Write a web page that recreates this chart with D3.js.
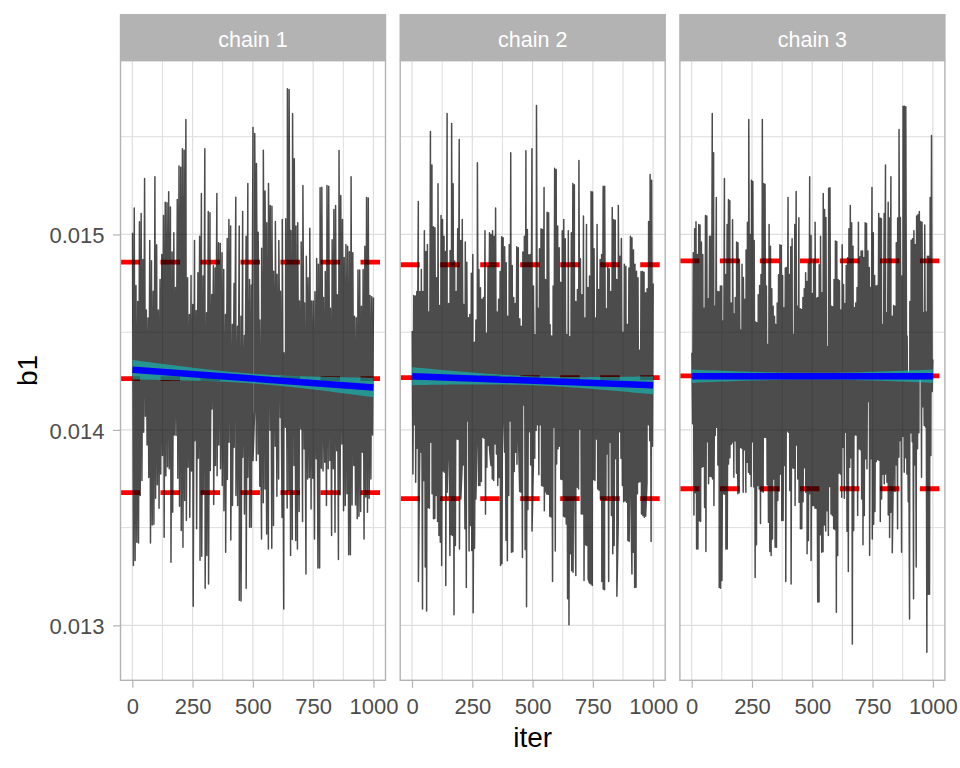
<!DOCTYPE html>
<html><head><meta charset="utf-8">
<script src="https://cdn.jsdelivr.net/npm/d3@7"></script>
<style>body{margin:0;background:#fff}</style>
</head><body>
<svg id="c" width="960" height="768"></svg>
<script>
// ---------------- data ----------------
const chains = ["chain 1", "chain 2", "chain 3"];
const xTicks = [0, 250, 500, 750, 1000];
const xMinor = [125, 375, 625, 875];
const yTicks = [0.013, 0.014, 0.015];
const yMinor = [0.0135, 0.0145, 0.0155];
const iterRange = [1, 1000];

// upper / lower excursions of each trace, left to right
const chain1High = [0.015009,0.015136,0.014739,0.014657,0.015065,0.015107,0.014872,0.015286,0.014613,0.014572,0.014969,0.014865,0.014710,0.015295,0.014947,0.014613,0.014770,0.014898,0.015097,0.015165,0.015162,0.015218,0.015140,0.014910,0.015009,0.014729,0.015179,0.015350,0.015344,0.015438,0.015431,0.015588,0.014778,0.014591,0.014790,0.014642,0.014969,0.014611,0.014804,0.014991,0.015210,0.014787,0.015438,0.014599,0.015118,0.015111,0.014693,0.014841,0.014829,0.015210,0.014957,0.014954,0.014906,0.014821,0.014591,0.014980,0.015077,0.015043,0.014540,0.014749,0.015191,0.014531,0.015043,0.014582,0.015118,0.014483,0.014991,0.015261,0.014770,0.014741,0.015547,0.015517,0.015363,0.015012,0.014562,0.014930,0.015431,0.015222,0.015060,0.015261,0.015148,0.015145,0.014812,0.015066,0.014797,0.014969,0.014710,0.015077,0.014395,0.015080,0.015745,0.015742,0.015020,0.015619,0.015387,0.015043,0.015060,0.014659,0.014961,0.015251,0.014650,0.014889,0.014778,0.015032,0.014659,0.014659,0.014707,0.014877,0.014847,0.015239,0.015242,0.014678,0.014811,0.015251,0.015247,0.014623,0.014973,0.015128,0.015148,0.014691,0.015430,0.015199,0.015077,0.014882,0.014949,0.014940,0.014911,0.015295,0.014906,0.014582,0.014574,0.014818,0.014818,0.014633,0.014821,0.014940,0.015189,0.015186,0.014688,0.014681,0.014678];
const chain1Low = [0.013306,0.013332,0.013425,0.013422,0.013664,0.013741,0.013988,0.014070,0.013923,0.013756,0.013422,0.013514,0.013517,0.013650,0.013719,0.013599,0.013775,0.013869,0.013451,0.013766,0.013811,0.013801,0.013323,0.013579,0.013974,0.013971,0.013753,0.013610,0.013485,0.013400,0.013639,0.013536,0.013809,0.013553,0.013790,0.013098,0.013945,0.013494,0.013855,0.013333,0.013354,0.013673,0.013190,0.013357,0.013211,0.013792,0.014107,0.013618,0.013818,0.013766,0.013923,0.013801,0.013715,0.013587,0.013374,0.013746,0.013937,0.013437,0.013613,0.013911,0.013664,0.013613,0.013129,0.013125,0.013860,0.013570,0.013190,0.013758,0.013502,0.013502,0.013843,0.014102,0.013843,0.013877,0.013712,0.013442,0.013627,0.013698,0.013468,0.013391,0.013998,0.013395,0.013511,0.013916,0.013661,0.013749,0.014063,0.013552,0.013084,0.014014,0.013601,0.013690,0.013357,0.013439,0.013818,0.013434,0.013391,0.013582,0.014005,0.013531,0.013903,0.013263,0.013749,0.013756,0.013596,0.013753,0.013442,0.013852,0.013294,0.013294,0.013804,0.013790,0.013835,0.013613,0.013801,0.013843,0.013460,0.013801,0.013477,0.013894,0.013337,0.013668,0.013928,0.013587,0.013613,0.013673,0.013361,0.013361,0.013616,0.013818,0.013616,0.013545,0.013558,0.013582,0.013886,0.013442,0.013657,0.013579,0.013650,0.013749,0.013974];
const chain2High = [0.014506,0.014688,0.014685,0.014708,0.015169,0.014708,0.014821,0.014708,0.015019,0.014913,0.014949,0.014603,0.015527,0.015356,0.015039,0.015034,0.014778,0.015259,0.014637,0.015097,0.015077,0.014991,0.014913,0.015619,0.014647,0.014918,0.015568,0.015259,0.014864,0.014708,0.015029,0.015486,0.014969,0.015077,0.014642,0.014961,0.014858,0.014574,0.014591,0.014801,0.014898,0.014449,0.014562,0.015367,0.014821,0.014727,0.014668,0.014678,0.015019,0.014494,0.014838,0.015009,0.015000,0.015019,0.014991,0.015136,0.014603,0.014668,0.014811,0.014988,0.014983,0.014937,0.014855,0.014582,0.014949,0.015418,0.014841,0.014678,0.014647,0.014937,0.014932,0.014569,0.014531,0.014910,0.014991,0.015428,0.015026,0.014896,0.014898,0.015438,0.014736,0.014487,0.015660,0.014623,0.014927,0.015029,0.015026,0.015240,0.014770,0.015114,0.015111,0.014538,0.014480,0.014736,0.015339,0.015332,0.015043,0.014932,0.014756,0.015019,0.015077,0.014978,0.014488,0.015019,0.014477,0.015009,0.015261,0.015254,0.014657,0.014719,0.015379,0.014876,0.014691,0.015094,0.014572,0.015051,0.014729,0.014787,0.015220,0.015217,0.014927,0.014572,0.015051,0.014719,0.014872,0.014898,0.015247,0.015247,0.014620,0.014848,0.014824,0.014708,0.015138,0.015077,0.015073,0.014770,0.015148,0.014889,0.014980,0.014500,0.014847,0.014838,0.014540,0.014829,0.014991,0.014983,0.014920,0.014848,0.014812,0.014778,0.014408,0.014811,0.014811,0.014807,0.014702,0.014722,0.015066,0.015307,0.015278,0.014749];
const chain2Low = [0.013775,0.014026,0.013732,0.013906,0.013224,0.013886,0.013886,0.013084,0.013741,0.013298,0.013074,0.013603,0.013599,0.013937,0.013673,0.013545,0.013548,0.013664,0.013531,0.013460,0.013425,0.013306,0.013790,0.013783,0.013204,0.013681,0.013995,0.013357,0.013463,0.013460,0.013054,0.013408,0.013954,0.013951,0.013391,0.013647,0.013824,0.013821,0.013494,0.013194,0.014046,0.013381,0.013511,0.013383,0.013064,0.013395,0.013647,0.014005,0.013715,0.013715,0.013736,0.013962,0.013957,0.013569,0.013809,0.013920,0.013899,0.013818,0.013749,0.013741,0.013928,0.013877,0.013715,0.013756,0.013306,0.013315,0.014179,0.013886,0.013436,0.013330,0.013664,0.014046,0.013374,0.013377,0.013787,0.013886,0.013824,0.013997,0.013685,0.013681,0.013347,0.014128,0.013388,0.013095,0.013593,0.013991,0.013821,0.013483,0.013821,0.013855,0.013997,0.014026,0.013770,0.014026,0.013715,0.013712,0.013587,0.013688,0.013671,0.013671,0.013558,0.013555,0.013224,0.014014,0.013381,0.013826,0.013903,0.013916,0.013749,0.013746,0.013558,0.013555,0.013519,0.013136,0.013003,0.013367,0.013280,0.013272,0.013826,0.013255,0.013707,0.013698,0.014005,0.013570,0.013570,0.013229,0.013412,0.013408,0.013238,0.013217,0.013212,0.013204,0.013746,0.013741,0.013954,0.013698,0.013691,0.013647,0.013224,0.013187,0.013183,0.013644,0.013877,0.013224,0.013937,0.013562,0.013367,0.013408,0.013852,0.013149,0.013524,0.013991,0.013855,0.013715,0.013633,0.013637,0.013630,0.013434,0.013429,0.013775,0.013263,0.013374,0.013194,0.013195,0.013674,0.013732,0.013736,0.013570,0.013562,0.013553,0.013558,0.013729,0.014026,0.013945,0.013429,0.013916];
const chain3High = [0.014395,0.014906,0.015029,0.015065,0.014898,0.015051,0.015049,0.014961,0.014898,0.014623,0.015097,0.015094,0.014671,0.014991,0.014991,0.015619,0.015418,0.014633,0.015189,0.014708,0.014707,0.014736,0.014736,0.014557,0.015286,0.014795,0.015051,0.015179,0.015172,0.014650,0.015075,0.014593,0.014678,0.014961,0.014957,0.014872,0.014511,0.014847,0.014780,0.014668,0.014920,0.015063,0.015588,0.015000,0.015278,0.015271,0.014969,0.014552,0.014548,0.014691,0.014739,0.014795,0.015588,0.015261,0.015257,0.014736,0.014437,0.015051,0.014940,0.014722,0.014633,0.014582,0.014540,0.014650,0.014794,0.014947,0.014944,0.014790,0.014625,0.014829,0.014831,0.015189,0.014795,0.014937,0.014978,0.014488,0.015051,0.015220,0.014633,0.015085,0.014620,0.014616,0.014678,0.014722,0.014804,0.014760,0.014852,0.015295,0.014995,0.014698,0.014872,0.015063,0.014674,0.014678,0.014845,0.014991,0.014702,0.015210,0.015128,0.015087,0.014425,0.015237,0.015239,0.014633,0.014630,0.014770,0.014966,0.014964,0.014770,0.014763,0.014613,0.014947,0.014744,0.014647,0.014841,0.014881,0.015029,0.015148,0.015060,0.014940,0.014625,0.014650,0.014729,0.015063,0.014886,0.014915,0.014916,0.014882,0.015060,0.015056,0.014916,0.014831,0.014729,0.015240,0.015009,0.014790,0.014736,0.014739,0.015107,0.015084,0.015080,0.014540,0.015107,0.015356,0.014599,0.015165,0.015084,0.015295,0.014582,0.014637,0.014633,0.014957,0.015084,0.015537,0.015087,0.014787,0.015656,0.015656,0.015653,0.014480,0.014292,0.014657,0.014971,0.014978,0.015019,0.014949,0.015094,0.015101,0.015118,0.015066,0.015063,0.014599,0.015049,0.014603,0.014889,0.014889,0.015189,0.015506,0.014361];
const chain3Low = [0.014031,0.013565,0.013678,0.013391,0.013391,0.013535,0.013531,0.013809,0.013814,0.013603,0.013378,0.013940,0.013724,0.013763,0.013760,0.013749,0.013613,0.013971,0.014014,0.013821,0.013194,0.013190,0.013229,0.013673,0.013671,0.013391,0.013391,0.013826,0.013858,0.013927,0.013944,0.013758,0.013944,0.013778,0.013673,0.013678,0.013910,0.013906,0.013681,0.013899,0.013681,0.013835,0.013783,0.013773,0.013710,0.013940,0.013708,0.013245,0.013412,0.013715,0.013698,0.013521,0.013688,0.013681,0.013962,0.013961,0.013719,0.013528,0.013378,0.013357,0.013442,0.013749,0.013400,0.013400,0.013639,0.013688,0.013775,0.013536,0.013536,0.013818,0.013224,0.013995,0.013988,0.013690,0.013211,0.013807,0.013804,0.013613,0.013923,0.013749,0.013630,0.013494,0.013494,0.013633,0.013807,0.013681,0.013367,0.013434,0.013673,0.013332,0.013613,0.013613,0.013599,0.013599,0.013119,0.013119,0.013463,0.013374,0.013377,0.013514,0.013483,0.013587,0.013460,0.013710,0.013570,0.013562,0.013494,0.013490,0.013067,0.013357,0.013780,0.013775,0.013656,0.013911,0.013650,0.013988,0.013482,0.013275,0.013809,0.013858,0.012905,0.013485,0.013974,0.013974,0.013562,0.013903,0.013899,0.013647,0.013412,0.013562,0.013852,0.013801,0.014145,0.013357,0.013852,0.013442,0.013517,0.013582,0.013838,0.013848,0.013845,0.013531,0.013647,0.013773,0.013724,0.013775,0.013732,0.013565,0.013449,0.013579,0.013371,0.013886,0.013685,0.013821,0.013494,0.013860,0.013945,0.013374,0.013968,0.013783,0.013858,0.013775,0.013633,0.013033,0.013985,0.013940,0.013136,0.013821,0.013298,0.013903,0.013985,0.014261,0.013758,0.014118,0.014022,0.014015,0.012863,0.013159,0.013159,0.013869,0.014196];

// reference lines per chain (red dashed)
const qLow  = [0.013679, 0.013648, 0.013699];
const qMean = [0.014262, 0.014268, 0.014277];
const qHigh = [0.014859, 0.014845, 0.014865];

// linear smooth per chain: fitted value at first and last iteration, SE half-width at centre
const fitStart = [0.014308, 0.014275, 0.014275];
const fitEnd   = [0.014217, 0.014228, 0.014275];
const ciMid    = [0.000025, 0.000023, 0.000017];

// ---------------- drawing ----------------
const FONT = "'Liberation Sans', Arial, Helvetica, sans-serif";
const L = {left: 120.5, top: 60.7, bottom: 680.3, stripTop: 14, pw: 265, gap: 14.7};

function buildTrace(hi, lo) {
  const pts = [];
  hi.forEach((v, i) => pts.push({pos: i / (hi.length - 1), v}));
  lo.forEach((v, j) => pts.push({pos: (j + 0.5) / lo.length, v}));
  pts.sort((a, b) => a.pos - b.pos);
  return pts.map(p => ({iter: iterRange[0] + p.pos * (iterRange[1] - iterRange[0]), v: p.v}));
}
const traces = [buildTrace(chain1High, chain1Low), buildTrace(chain2High, chain2Low), buildTrace(chain3High, chain3Low)];

const allV = traces.flat().map(d => d.v);
const [vmin, vmax] = d3.extent(allV);
const vpad = (vmax - vmin) * 0.05;
const y = d3.scaleLinear().domain([vmin - vpad, vmax + vpad]).range([L.bottom, L.top]);
const ipad = (iterRange[1] - iterRange[0]) * 0.05;

const svg = d3.select("#c");
svg.append("rect").attr("width", 960).attr("height", 768).attr("fill", "#fff");

chains.forEach((name, k) => {
  const x0 = L.left + k * (L.pw + L.gap);
  const x = d3.scaleLinear().domain([iterRange[0] - ipad, iterRange[1] + ipad]).range([x0, x0 + L.pw]);
  const g = svg.append("g");
  const clipId = "clip" + k;
  svg.append("clipPath").attr("id", clipId).append("rect")
    .attr("x", x0).attr("y", L.top).attr("width", L.pw).attr("height", L.bottom - L.top);
  const pg = g.append("g").attr("clip-path", `url(#${clipId})`);

  // grid
  pg.selectAll(".gmy").data(yMinor).join("line")
    .attr("x1", x0).attr("x2", x0 + L.pw).attr("y1", d => y(d)).attr("y2", d => y(d))
    .attr("stroke", "#dedede").attr("stroke-width", 1);
  pg.selectAll(".gmx").data(xMinor).join("line")
    .attr("y1", L.top).attr("y2", L.bottom).attr("x1", d => x(d)).attr("x2", d => x(d))
    .attr("stroke", "#dedede").attr("stroke-width", 1);
  pg.selectAll(".gy").data(yTicks).join("line")
    .attr("x1", x0).attr("x2", x0 + L.pw).attr("y1", d => y(d)).attr("y2", d => y(d))
    .attr("stroke", "#dedede").attr("stroke-width", 1.2);
  pg.selectAll(".gx").data(xTicks).join("line")
    .attr("y1", L.top).attr("y2", L.bottom).attr("x1", d => x(d)).attr("x2", d => x(d))
    .attr("stroke", "#dedede").attr("stroke-width", 1.2);

  // red dashed reference lines
  [qHigh[k], qMean[k], qLow[k]].forEach(v => {
    pg.append("line").attr("x1", x0).attr("x2", x0 + L.pw)
      .attr("y1", y(v)).attr("y2", y(v))
      .attr("stroke", "#ff0000").attr("stroke-width", 4.8)
      .attr("stroke-dasharray", "19.5 20.5");
  });

  // trace (drawn opaque inside a translucent group so the dense zigzag fills solidly)
  pg.append("g").attr("opacity", 0.7)
    .append("path").datum(traces[k])
    .attr("d", d3.line().x(d => x(d.iter)).y(d => y(d.v)))
    .attr("fill", "none").attr("stroke", "#000")
    .attr("stroke-width", 1.5).attr("stroke-linejoin", "round");

  // smooth ribbon + line
  const xm = (iterRange[0] + iterRange[1]) / 2, xh = (iterRange[1] - iterRange[0]) / 2;
  const fit = it => fitStart[k] + (fitEnd[k] - fitStart[k]) * (it - iterRange[0]) / (iterRange[1] - iterRange[0]);
  const half = it => ciMid[k] * Math.sqrt(1 + 3 * Math.pow((it - xm) / xh, 2));
  const its = d3.range(0, 81).map(i => iterRange[0] + i * (iterRange[1] - iterRange[0]) / 80);
  pg.append("path").datum(its)
    .attr("d", d3.area().x(d => x(d)).y0(d => y(fit(d) - half(d))).y1(d => y(fit(d) + half(d))))
    .attr("fill", "#00dcd6").attr("fill-opacity", 0.5);
  pg.append("path").datum(iterRange)
    .attr("d", d3.line().x(d => x(d)).y(d => y(fit(d))))
    .attr("stroke", "#0000ff").attr("stroke-width", 6.5).attr("fill", "none");

  // border
  g.append("rect").attr("x", x0).attr("y", L.top).attr("width", L.pw).attr("height", L.bottom - L.top)
    .attr("fill", "none").attr("stroke", "#b3b3b3").attr("stroke-width", 1.4);

  // strip
  g.append("rect").attr("x", x0 - 0.7).attr("y", L.stripTop).attr("width", L.pw + 1.4).attr("height", L.top - L.stripTop)
    .attr("fill", "#b3b3b3");
  g.append("text").attr("x", x0 + L.pw / 2).attr("y", 47.3).attr("text-anchor", "middle")
    .attr("font-family", FONT).attr("font-size", 21.5).attr("fill", "#ffffff").text(name);

  // x axis
  const ax = g.append("g").attr("transform", `translate(0,${L.bottom})`)
    .call(d3.axisBottom(x).tickValues(xTicks).tickFormat(d3.format("d")).tickSize(7.5).tickPadding(10.5));
  ax.select(".domain").remove();
  ax.selectAll(".tick line").attr("stroke", "#b3b3b3").attr("stroke-width", 1.2);
  ax.selectAll(".tick text").attr("font-family", FONT).attr("font-size", 22).attr("fill", "#4d4d4d");

  if (k === 0) {
    const ay = g.append("g").attr("transform", `translate(${x0},0)`)
      .call(d3.axisLeft(y).tickValues(yTicks).tickFormat(d3.format(".3f")).tickSize(7.5).tickPadding(8.5));
    ay.select(".domain").remove();
    ay.selectAll(".tick line").attr("stroke", "#b3b3b3").attr("stroke-width", 1.2);
    ay.selectAll(".tick text").attr("font-family", FONT).attr("font-size", 22).attr("fill", "#4d4d4d").attr("dy", "0.38em");
  }
});

// axis titles
const totalRight = L.left + 3 * L.pw + 2 * L.gap;
svg.append("text").attr("x", (L.left + totalRight) / 2).attr("y", 747.3).attr("text-anchor", "middle")
  .attr("font-family", FONT).attr("font-size", 28).attr("fill", "#000").text("iter");
svg.append("text").attr("transform", `translate(37.3,${(L.top + L.bottom) / 2}) rotate(-90)`)
  .attr("text-anchor", "middle").attr("font-family", FONT).attr("font-size", 28).attr("fill", "#000").text("b1");
</script>
</body></html>
